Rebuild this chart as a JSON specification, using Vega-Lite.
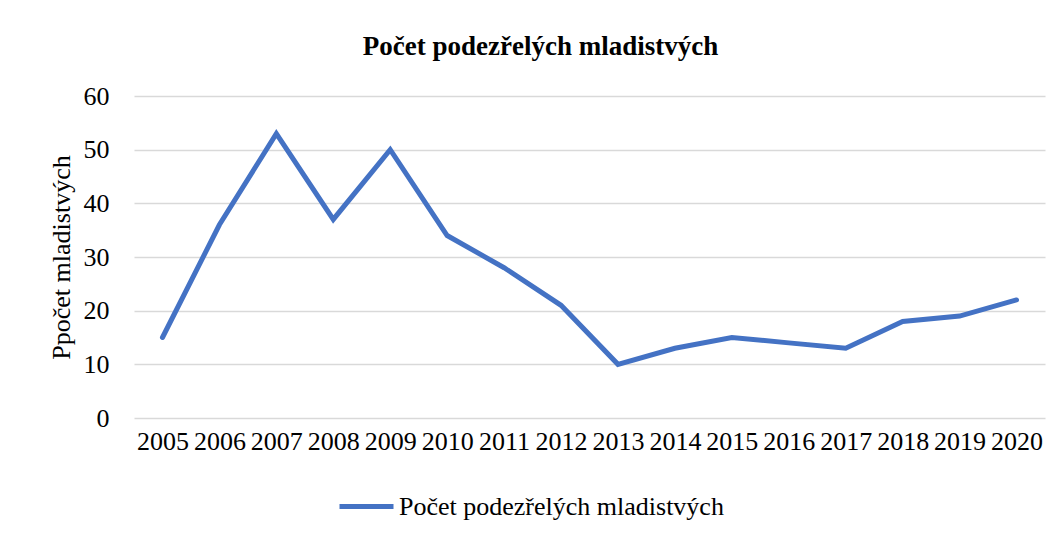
{
  "$schema": "https://vega.github.io/schema/vega-lite/v6.json",
  "autosize": {"type": "none"},
  "width": 911,
  "height": 322,
  "padding": {"left": 134, "top": 96, "right": 16, "bottom": 121},
  "background": "white",
  "title": {
    "text": "Počet podezřelých mladistvých",
    "font": "Liberation Serif",
    "fontSize": 27,
    "fontWeight": "bold",
    "color": "black",
    "anchor": "middle",
    "dx": -49,
    "offset": 22
  },
  "data": {
    "values": [
      {"rok": "2005", "pocet": 15},
      {"rok": "2006", "pocet": 36},
      {"rok": "2007", "pocet": 53},
      {"rok": "2008", "pocet": 37},
      {"rok": "2009", "pocet": 50},
      {"rok": "2010", "pocet": 34},
      {"rok": "2011", "pocet": 28},
      {"rok": "2012", "pocet": 21},
      {"rok": "2013", "pocet": 10},
      {"rok": "2014", "pocet": 13},
      {"rok": "2015", "pocet": 15},
      {"rok": "2016", "pocet": 14},
      {"rok": "2017", "pocet": 13},
      {"rok": "2018", "pocet": 18},
      {"rok": "2019", "pocet": 19},
      {"rok": "2020", "pocet": 22}
    ]
  },
  "mark": {"type": "line", "strokeWidth": 5, "strokeCap": "round", "strokeJoin": "miter"},
  "encoding": {
    "x": {
      "field": "rok",
      "type": "ordinal",
      "scale": {"type": "point", "padding": 0.5},
      "axis": {
        "title": null,
        "labelAngle": 0,
        "domain": false,
        "ticks": false,
        "labelPadding": 10,
        "labelFont": "Liberation Serif",
        "labelFontSize": 26,
        "labelColor": "black",
        "labelOverlap": false
      }
    },
    "y": {
      "field": "pocet",
      "type": "quantitative",
      "scale": {"domain": [0, 60]},
      "axis": {
        "title": "Ppočet mladistvých",
        "values": [0, 10, 20, 30, 40, 50, 60],
        "domain": false,
        "ticks": false,
        "labelPadding": 25,
        "labelFont": "Liberation Serif",
        "labelFontSize": 26,
        "labelColor": "black",
        "titleFont": "Liberation Serif",
        "titleFontSize": 26,
        "titleFontWeight": "normal",
        "titleColor": "black",
        "titlePadding": 9,
        "gridColor": "#d9d9d9",
        "gridWidth": 1.5
      }
    },
    "color": {
      "datum": "Počet podezřelých mladistvých",
      "scale": {"range": ["#4472C4"]},
      "legend": {
        "title": null,
        "orient": "none",
        "legendX": 203,
        "legendY": 381,
        "symbolType": "stroke",
        "symbolSize": 2916,
        "symbolStrokeWidth": 5,
        "labelFont": "Liberation Serif",
        "labelFontSize": 26,
        "labelColor": "black",
        "labelOffset": 3,
        "labelLimit": 0
      }
    }
  },
  "config": {"view": {"stroke": null}}
}
